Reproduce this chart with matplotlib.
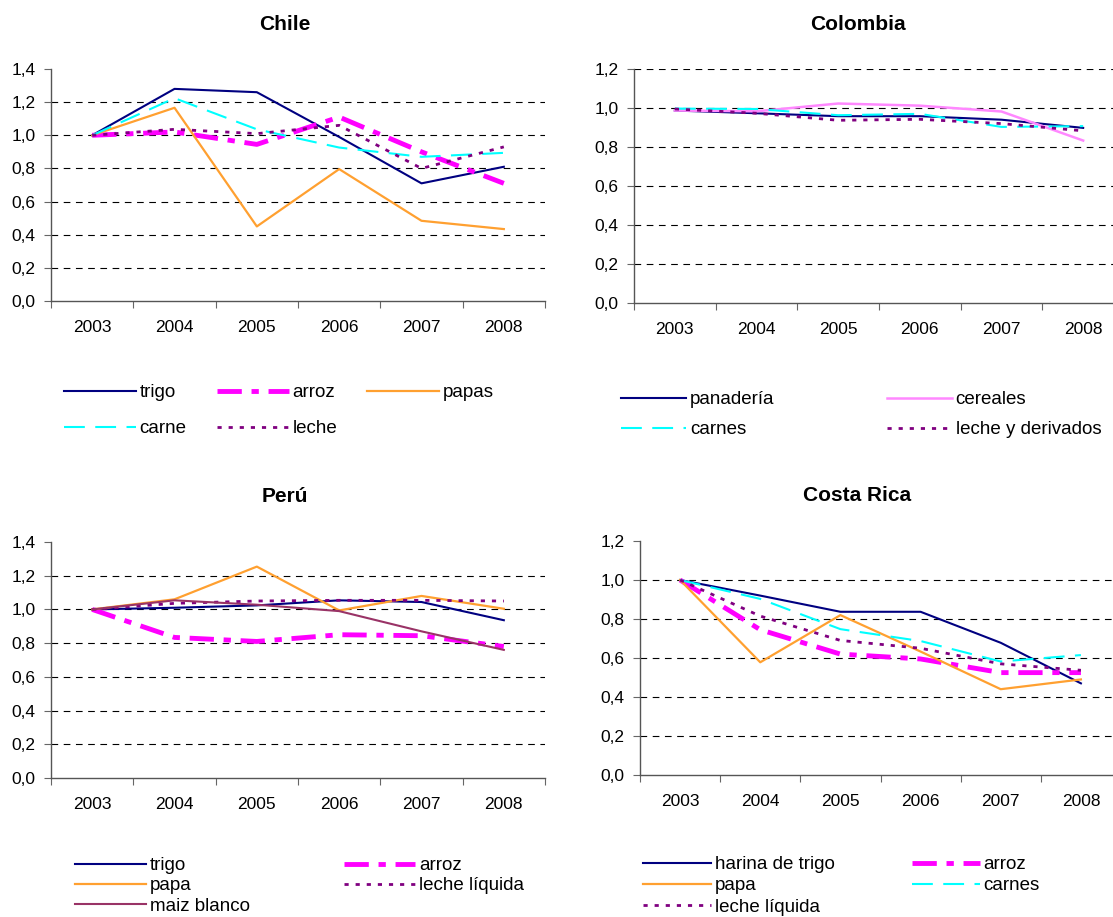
import matplotlib.pyplot as plt
import matplotlib.ticker as mticker

plt.rcParams['font.family'] = ['Liberation Sans', 'DejaVu Sans']

years = ['2003', '2004', '2005', '2006', '2007', '2008']

# Chile
chile_trigo = [1.00, 1.28, 1.26, 0.99, 0.71, 0.81]
chile_arroz = [1.00, 1.02, 0.945, 1.11, 0.90, 0.71]
chile_papas = [1.00, 1.166, 0.45, 0.796, 0.484, 0.434]
chile_carne = [1.00, 1.224, 1.036, 0.926, 0.87, 0.894]
chile_leche = [1.00, 1.036, 1.01, 1.06, 0.80, 0.93]

# Colombia
col_panaderia = [0.987, 0.973, 0.958, 0.958, 0.94, 0.898]
col_cereales = [0.987, 0.983, 1.023, 1.012, 0.982, 0.833]
col_carnes = [0.997, 0.995, 0.963, 0.97, 0.903, 0.907]
col_leche = [0.995, 0.973, 0.937, 0.942, 0.92, 0.883]

# Peru
peru_trigo = [1.00, 1.01, 1.024, 1.054, 1.044, 0.936]
peru_arroz = [1.00, 0.834, 0.81, 0.85, 0.844, 0.78]
peru_papa = [1.00, 1.06, 1.254, 0.994, 1.08, 1.004]
peru_leche = [1.00, 1.036, 1.05, 1.054, 1.054, 1.05]
peru_maiz = [1.00, 1.054, 1.028, 0.99, 0.87, 0.76]

# Costa Rica
cr_harina = [1.00, 0.92, 0.837, 0.837, 0.678, 0.47]
cr_arroz = [1.00, 0.745, 0.62, 0.595, 0.525, 0.525]
cr_papa = [1.00, 0.578, 0.82, 0.633, 0.44, 0.49]
cr_carnes = [1.00, 0.903, 0.748, 0.687, 0.582, 0.615]
cr_leche = [1.00, 0.815, 0.69, 0.65, 0.57, 0.537]

NAVY = '#000080'
MAGENTA = '#FF00FF'
ORANGE = '#FFA030'
CYAN = '#00FFFF'
PURPLE = '#800080'
PINK = '#FF88FF'
MAROON = '#993366'

styles = {
    'solid_navy': dict(color=NAVY, lw=1.5, ls='-'),
    'arroz': dict(color=MAGENTA, lw=3.5, ls=(0, (5, 2, 1.5, 2))),
    'orange': dict(color=ORANGE, lw=1.6, ls='-'),
    'cyan': dict(color=CYAN, lw=1.5, ls=(0, (10, 5))),
    'purple': dict(color=PURPLE, lw=2.0, ls=(0, (1.5, 2.5))),
    'pink': dict(color=PINK, lw=1.8, ls='-'),
    'maroon': dict(color=MAROON, lw=1.5, ls='-'),
}

W, H = 1113, 917
fig = plt.figure(figsize=(W / 100, H / 100), dpi=100)


def px_axes(left, right, top, bottom):
    return fig.add_axes([left / W, 1 - bottom / H, (right - left) / W, (bottom - top) / H])


def setup(ax, ymax, grid_top):
    x = range(len(years))
    ax.set_xlim(-0.5, len(years) - 0.5)
    ax.set_ylim(0, ymax)
    ax.set_xticks([i - 0.5 for i in range(len(years) + 1)])
    ax.set_xticklabels([])
    ax.set_xticks(list(x), minor=True)
    ax.set_xticklabels(years, minor=True)
    ax.tick_params(axis='x', which='major', length=5, direction='out', color='#666666')
    ax.tick_params(axis='x', which='minor', length=0, pad=14, labelsize=12.5)
    ticks = [round(0.2 * i, 1) for i in range(int(round(ymax / 0.2)) + 1)]
    ax.set_yticks(ticks)
    ax.yaxis.set_major_formatter(mticker.FuncFormatter(lambda v, p: f'{v:.1f}'.replace('.', ',')))
    ax.tick_params(axis='y', length=5, direction='out', pad=6, labelsize=12.5, color='#666666')
    for t in ticks:
        if 0 < t < ymax or (grid_top and t == ymax):
            ax.axhline(t, color='black', lw=0.8, ls=(0, (6, 5)), zorder=0)
    for s in ['top', 'right']:
        ax.spines[s].set_visible(False)
    for s in ['left', 'bottom']:
        ax.spines[s].set_color('#555555')
        ax.spines[s].set_linewidth(1.0)
    ax.patch.set_alpha(0)


def legend(ax, handles, labels, ncol, x, y, colspace, labspace, hlen):
    ax.legend(handles, labels, ncol=ncol, loc='upper left',
              bbox_to_anchor=(x / W, 1 - y / H), bbox_transform=fig.transFigure,
              frameon=False, fontsize=13.5, handlelength=hlen, handletextpad=0.2,
              columnspacing=colspace, labelspacing=labspace, borderpad=0, borderaxespad=0)


def title(x, y, text):
    fig.text(x / W, 1 - y / H, text, ha='center', va='center', fontsize=15, fontweight='bold')


# ---- Chile
ax1 = px_axes(51, 545, 69, 301)
setup(ax1, 1.4, False)
series = [(chile_trigo, 'solid_navy', 'trigo'), (chile_arroz, 'arroz', 'arroz'),
          (chile_papas, 'orange', 'papas'), (chile_carne, 'cyan', 'carne'),
          (chile_leche, 'purple', 'leche')]
h = {}
for vals, st, lab in series:
    h[lab], = ax1.plot(range(len(years)), vals, **styles[st])
order = ['trigo', 'carne', 'arroz', 'leche', 'papas']
legend(ax1, [h[k] for k in order], order, 3, 64, 384, 1.6, 1.02, 3.84)
title(285, 24, 'Chile')

# ---- Colombia
ax2 = px_axes(634, 1124, 69, 303)
setup(ax2, 1.2, True)
series = [(col_panaderia, 'solid_navy', 'panadería'), (col_cereales, 'pink', 'cereales'),
          (col_carnes, 'cyan', 'carnes'), (col_leche, 'purple', 'leche y derivados')]
h = {}
for vals, st, lab in series:
    h[lab], = ax2.plot(range(len(years)), vals, **styles[st])
order = ['panadería', 'carnes', 'cereales', 'leche y derivados']
legend(ax2, [h[k] for k in order], order, 2, 621, 391, 6.0, 0.7, 3.47)
title(858, 24, 'Colombia')

# ---- Peru
ax3 = px_axes(51, 545, 542, 778)
setup(ax3, 1.4, False)
series = [(peru_trigo, 'solid_navy', 'trigo'), (peru_arroz, 'arroz', 'arroz'),
          (peru_papa, 'orange', 'papa'), (peru_leche, 'purple', 'leche líquida'),
          (peru_maiz, 'maroon', 'maiz blanco')]
h = {}
for vals, st, lab in series:
    h[lab], = ax3.plot(range(len(years)), vals, **styles[st])
order = ['trigo', 'papa', 'maiz blanco', 'arroz', 'leche líquida']
legend(ax3, [h[k] for k in order], order, 2, 75, 857, 5.0, 0.17, 3.8)
title(285, 497, 'Perú')

# ---- Costa Rica
ax4 = px_axes(640, 1121, 541, 775)
setup(ax4, 1.2, False)
series = [(cr_harina, 'solid_navy', 'harina de trigo'), (cr_arroz, 'arroz', 'arroz'),
          (cr_papa, 'orange', 'papa'), (cr_carnes, 'cyan', 'carnes'),
          (cr_leche, 'purple', 'leche líquida')]
h = {}
for vals, st, lab in series:
    h[lab], = ax4.plot(range(len(years)), vals, **styles[st])
order = ['harina de trigo', 'papa', 'leche líquida', 'arroz', 'carnes']
legend(ax4, [h[k] for k in order], order, 2, 643, 856, 4.1, 0.22, 3.63)
title(857, 495, 'Costa Rica')

fig.savefig('out.png', dpi=100)
